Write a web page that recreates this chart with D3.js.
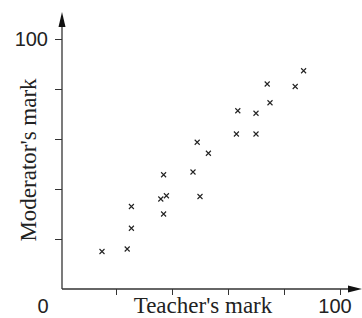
<!DOCTYPE html>
<html>
<head>
<meta charset="utf-8">
<script src="https://cdn.jsdelivr.net/npm/d3@7"></script>
<style>
    body { margin: 0; background: #fff; }
    svg { display: block; }
</style>
</head>
<body>
<div id="chart"></div>
<script>
// teacher's mark vs moderator's mark
const teacherMarks   = [15, 24, 25.5, 25.5, 36, 37, 38, 37, 47.5, 50, 49, 53, 63, 63.5, 70, 70, 74, 75, 84, 87];
const moderatorMarks = [15, 16, 24.3, 33, 36, 30, 37.3, 45.7, 46.8, 37, 58.7, 54.3, 62, 71.3, 70.3, 62, 82, 74.5, 81, 87.3];
const tickValues = [20, 40, 60, 80, 100];
const xTitle = "Teacher's mark";
const yTitle = "Moderator's mark";

function drawChart() {

    /**********************
    ***** BASIC SETUP *****
    **********************/

    const width = 362;
    const height = 318;

    const svg = d3.select("#chart")
        .append("svg")
        .attr("width", width)
        .attr("height", height);

    const axisColor = "#333";
    const numFont = "20px 'Liberation Sans', Arial, sans-serif";
    const titleFont = "23px 'Liberation Serif', 'Times New Roman', serif";

    const xScale = d3.scaleLinear()
        .domain([0, 100])
        .range([60, 340]);

    const yScale = d3.scaleLinear()
        .domain([0, 100])
        .range([289, 39]);

    const originX = xScale(0) + 2;
    const originY = yScale(0);

    /*************************
    ***** AXES AND TICKS *****
    *************************/

    const xAxis = d3.axisBottom(xScale)
        .tickValues(tickValues)
        .tickSize(6)
        .tickFormat("");

    const yAxis = d3.axisLeft(yScale)
        .tickValues(tickValues)
        .tickSize(7)
        .tickPadding(7)
        .tickFormat(d => d === 100 ? "100" : "");

    svg.append("g")
        .attr("transform", "translate(0," + originY + ")")
        .call(xAxis)
        .call(g => g.select(".domain").remove())
        .selectAll("line")
        .attr("stroke", axisColor);

    const yG = svg.append("g")
        .attr("transform", "translate(" + originX + ",0)")
        .call(yAxis)
        .call(g => g.select(".domain").remove());
    yG.selectAll("line").attr("stroke", axisColor);
    yG.selectAll("text")
        .attr("fill", "#222")
        .style("font", numFont);

    // axis lines with arrow heads
    svg.append("line")
        .attr("x1", originX).attr("x2", originX)
        .attr("y1", originY).attr("y2", 20)
        .attr("stroke", axisColor).attr("stroke-width", 1.3);
    svg.append("path")
        .attr("d", `M${originX},12 L${originX - 3.5},27 L${originX + 3.5},27 Z`)
        .attr("fill", "#111");

    svg.append("line")
        .attr("x1", originX).attr("x2", 352)
        .attr("y1", originY).attr("y2", originY)
        .attr("stroke", axisColor).attr("stroke-width", 1.3);
    svg.append("path")
        .attr("d", `M362,${originY} L348,${originY - 3.5} L348,${originY + 3.5} Z`)
        .attr("fill", "#111");

    /*******************
    ***** CROSSES *****
    *******************/

    const data = teacherMarks.map((t, i) => ({t: t, m: moderatorMarks[i]}));
    const s = 2.5;

    svg.selectAll(".cross")
        .data(data)
        .enter()
        .append("path")
        .attr("class", "cross")
        .attr("d", d => {
            const cx = xScale(d.t), cy = yScale(d.m);
            return `M${cx - s},${cy - s}L${cx + s},${cy + s}M${cx - s},${cy + s}L${cx + s},${cy - s}`;
        })
        .attr("stroke", "#222")
        .attr("stroke-width", 1.1)
        .attr("fill", "none");

    /*****************
    ***** LABELS *****
    *****************/

    svg.append("text")
        .attr("x", xScale(0) - 17)
        .attr("y", 313)
        .attr("text-anchor", "middle")
        .attr("fill", "#222")
        .style("font", numFont)
        .text("0");

    svg.append("text")
        .attr("x", xScale(100) - 5)
        .attr("y", 313)
        .attr("text-anchor", "middle")
        .attr("fill", "#222")
        .style("font", numFont)
        .text("100");

    svg.append("text")
        .attr("x", 203)
        .attr("y", 313)
        .attr("text-anchor", "middle")
        .attr("fill", "#222")
        .style("font", titleFont)
        .text(xTitle);

    svg.append("text")
        .attr("transform", "translate(36,160) rotate(-90)")
        .attr("text-anchor", "middle")
        .attr("fill", "#222")
        .style("font", titleFont)
        .text(yTitle);
}

drawChart();
</script>
</body>
</html>
